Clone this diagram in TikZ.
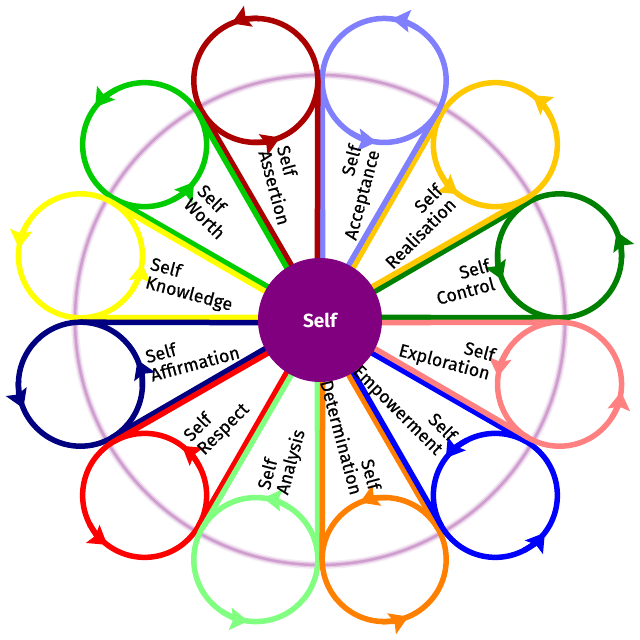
\documentclass[tikz,border=0pt]{standalone}
\usepackage{fontspec}
\setmainfont{Fira Sans}
\newfontfamily\wedgefont{Fira Sans}[FakeBold=0.5]
\usetikzlibrary{arrows.meta}

\definecolor{ctlgreen}{RGB}{0,128,0}
\definecolor{realgold}{RGB}{255,200,0}
\definecolor{acclav}{RGB}{128,128,255}
\definecolor{assred}{RGB}{170,0,0}
\definecolor{worthgreen}{RGB}{0,204,0}
\definecolor{knowyellow}{RGB}{255,255,0}
\definecolor{affnavy}{RGB}{0,0,128}
\definecolor{respred}{RGB}{255,0,0}
\definecolor{anagreen}{RGB}{128,255,128}
\definecolor{detorange}{RGB}{255,128,0}
\definecolor{empblue}{RGB}{0,0,255}
\definecolor{explpink}{RGB}{255,128,128}
\definecolor{hubpurple}{RGB}{128,0,128}

\begin{document}
\begin{tikzpicture}[
    x=1pt, y=1pt,
    halo/.style={draw=hubpurple, line width=#1},
    ring/.style={circle, draw, line width=5.5pt, minimum size=124pt, inner sep=0pt, outer sep=0pt},
    spoke/.style={line width=5.5pt},
    flowtip/.style={line width=5.5pt, -{Stealth[length=18pt, width=22pt, inset=3pt]}},
    wedgetext/.style={font=\wedgefont\fontsize{18}{19}\selectfont, inner sep=0pt},
    hub/.style={circle, fill=hubpurple, minimum size=124pt, inner sep=0pt, text=white, font=\fontsize{19}{19}\selectfont\bfseries}
]
\useasboundingbox (-320,-320) rectangle (320,320);
\coordinate (o) at (0,0);

% soft ring behind the loops
\draw[halo=8pt, opacity=0.08] (o) circle (245pt);
\draw[halo=5pt, opacity=0.14] (o) circle (245pt);
\draw[halo=2.5pt, opacity=0.22] (o) circle (245pt);

% one loop per wedge
\foreach \ang/\key/\col/\word/\rot/\side/\just [evaluate=\ang as \lo using \ang-105,
        evaluate=\ang as \hi using \ang+105, evaluate=\ang as \inn using \ang+180] in {
    15/control/ctlgreen/Control/15/east/right,
    45/realisation/realgold/Realisation/45/east/right,
    75/acceptance/acclav/Acceptance/75/east/right,
    105/assertion/assred/Assertion/-75/west/left,
    135/worth/worthgreen/Worth/-45/west/left,
    165/knowledge/knowyellow/Knowledge/-15/west/left,
    195/affirmation/affnavy/Affirmation/15/west/left,
    225/respect/respred/Respect/45/west/left,
    255/analysis/anagreen/Analysis/75/west/left,
    285/determination/detorange/Determination/-75/east/right,
    315/empowerment/empblue/Empowerment/-45/east/right,
    345/exploration/explpink/Exploration/-15/east/right} {
  \node[ring, draw=\col] (\key) at (\ang:248pt) {};
  \draw[spoke, \col] (\key.\lo) -- ([shift={(\ang:10.6pt)}]o) -- (\key.\hi);
  \draw[flowtip, \col] (\key.{\ang-18}) arc[start angle=\ang-18, end angle=\ang+8, radius=62pt];
  \draw[flowtip, \col] (\key.{\inn-18}) arc[start angle=\inn-18, end angle=\inn+8, radius=62pt];
  \node[wedgetext, rotate=\rot, anchor=\side, align=\just] (\key-label) at (\ang:178pt) {Self\\\word};
}

\node[hub] (self) at (o) {Self};
\end{tikzpicture}
\end{document}
